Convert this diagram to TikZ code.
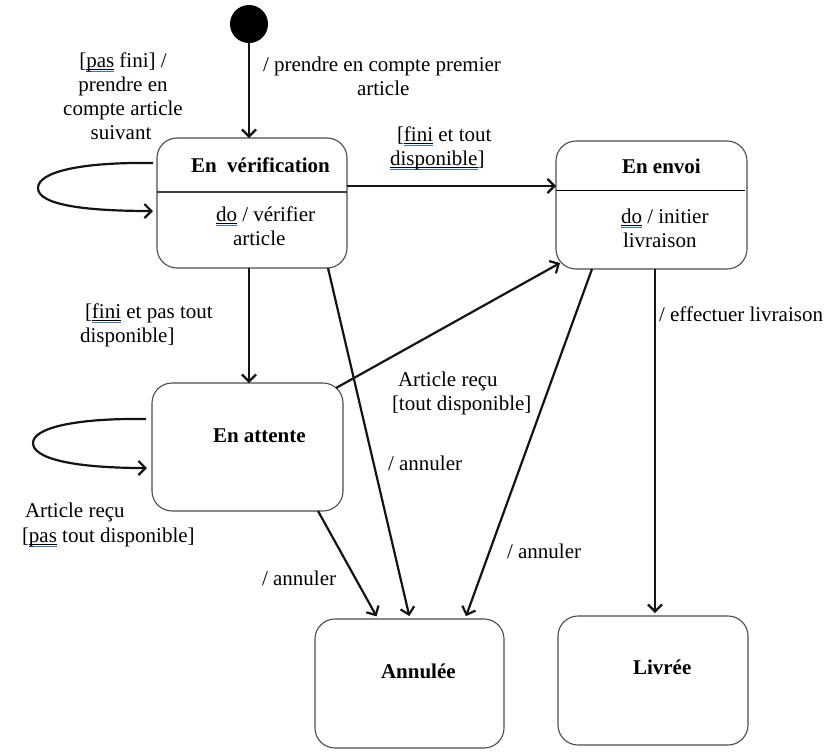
\documentclass[tikz,border=0pt]{standalone}
\usepackage{fontspec}
\setmainfont{Liberation Serif}
\usetikzlibrary{arrows.meta}
\definecolor{spell}{RGB}{59,111,212}
\newcommand\dul[1]{\setbox0\hbox{#1}\rlap{\rule[-2.6pt]{\wd0}{0.7pt}}\rlap{\textcolor{spell}{\rule[-4.6pt]{\wd0}{0.8pt}}}\box0\relax}
\begin{document}
\begin{tikzpicture}[x=1pt,y=-1pt,
  every node/.style={font=\fontsize{21}{24}\selectfont, inner sep=0pt, outer sep=0pt},
  state/.style={draw=black!70, line width=1.1pt, rounded corners=20pt, rectangle},
  lbl/.style={anchor=base west},
  ttl/.style={anchor=base west, font=\fontsize{21}{24}\selectfont\bfseries},
  arr/.style={draw=black!92, line width=2.2pt, -{Straight Barb[length=7pt,width=14pt]}},
  divider/.style={draw=black!75, line width=1.1pt}]
\useasboundingbox (0,0) rectangle (830,753);
% initial
\node[circle, fill=black, minimum size=38pt] (init) at (249,24) {};
% states
\node[state, minimum width=190pt, minimum height=130pt] (ver) at (252,203) {};
\node[state, minimum width=191pt, minimum height=128pt] (env) at (651.5,205) {};
\node[state, minimum width=191pt, minimum height=128pt] (att) at (247.5,447) {};
\node[state, minimum width=189pt, minimum height=129pt] (ann) at (409.5,683.5) {};
\node[state, minimum width=190pt, minimum height=129pt] (liv) at (653,680.5) {};
% dividers
\draw[divider] (ver.west |- 0,192) -- (ver.east |- 0,192);
\draw[divider, draw=black, line width=0.9pt] (env.west |- 0,190) -- ([xshift=-2pt]env.east |- 0,190);
% state texts
\node[ttl] (tver) at (191,172) {En\ \ vérification};
\node[lbl] (dver1) at (216,221) {\dul{do} / vérifier};
\node[lbl] (dver2) at (233,245) {article};
\node[ttl] (tenv) at (622,173) {En envoi};
\node[lbl] (denv1) at (621,223) {\dul{do} / initier};
\node[lbl] (denv2) at (623,247) {livraison};
\node[ttl] (tatt) at (213,442) {En attente};
\node[ttl] (tann) at (381,678) {Annulée};
\node[ttl] (tliv) at (633,674) {Livrée};
% transitions
\draw[arr] ([yshift=-19pt]init.center) -- (init |- ver.north);
\draw[arr] (ver.east |- 0,186) -- (env.west |- 0,186);
\draw[arr] (ver.south -| init) -- (att.north -| init);
\draw[arr] ([shift={(-7pt,-5pt)}]att.north east) -- ([shift={(4pt,6pt)}]env.south west);
\draw[arr, shorten >=3pt] ([xshift=76pt]ver.south) -- ([xshift=0.5pt]ann.north);
\draw[arr, shorten >=3pt] ([xshift=70.5pt]att.south) -- ([xshift=-31.5pt]ann.north);
\draw[arr, shorten >=3pt] ([xshift=-59.5pt]env.south) -- ([xshift=55.5pt]ann.north);
\draw[arr, shorten >=3pt] ([xshift=3.5pt]env.south) -- ([xshift=3.5pt]env.south |- liv.north);
% self loops
\draw[arr] ([xshift=-4pt]ver.west |- 0,163) .. controls (80,162) and (38,172) .. (38,188)
  .. controls (38,204) and (80,211) .. ([xshift=-4pt]ver.west |- 0,211);
\draw[arr] ([xshift=-6pt]att.west |- 0,419) .. controls (75,418) and (33,428) .. (33,443)
  .. controls (33,459) and (75,468) .. ([xshift=-5pt]att.west |- 0,468);
% labels
\node[lbl] (p1) at (263,71) {/ prendre en compte premier};
\node[lbl] (p2) at (357,95) {article};
\node[anchor=base] (s1) at (123,67) {[\dul{pas} fini] /};
\node[anchor=base] (s2) at (123,91) {prendre en};
\node[anchor=base] (s3) at (123,115) {compte article};
\node[anchor=base] (s4) at (121,139) {suivant};
\node[lbl] (f1) at (397,141) {[\dul{fini} et tout};
\node[lbl] (f2) at (390,165) {\dul{disponible}]};
\node[lbl] (g1) at (85,318) {[\dul{fini} et pas tout};
\node[lbl] (g2) at (80,342) {disponible]};
\node[lbl] (r1) at (398,386) {Article reçu};
\node[lbl] (r2) at (392,410) {[tout disponible]};
\node[lbl] (q1) at (25,517) {Article reçu};
\node[lbl] (q2) at (22,542) {[\dul{pas} tout disponible]};
\node[lbl] (a1) at (388,470) {/ annuler};
\node[lbl] (a2) at (262,585) {/ annuler};
\node[lbl] (a3) at (507,558) {/ annuler};
\node[lbl] (e1) at (659,321) {/ effectuer livraison};
\end{tikzpicture}
\end{document}
